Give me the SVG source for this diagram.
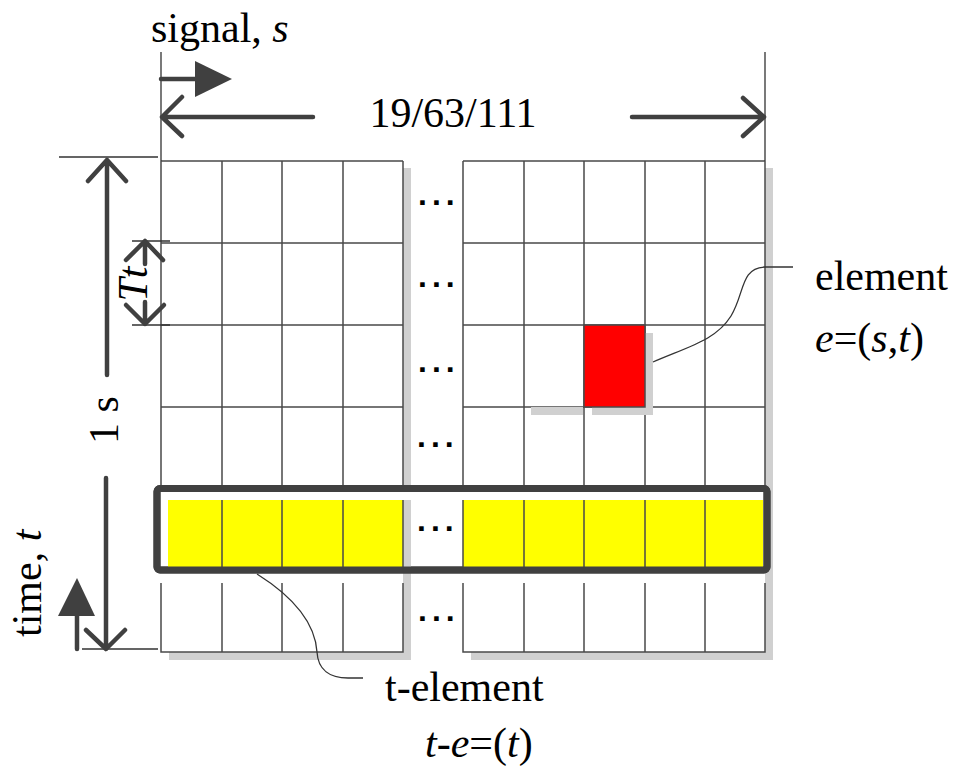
<svg xmlns="http://www.w3.org/2000/svg" width="957" height="776" viewBox="0 0 957 776">
<style>
text{font-family:'Liberation Serif','Times New Roman',Times,serif}
.t{font-size:42px;fill:#000}
.i{font-style:italic}
.dots{font-family:'Liberation Sans',Arial,sans-serif;font-weight:bold;font-size:32px;letter-spacing:5px;fill:#000}
.g{stroke:#4a4a4a;stroke-width:1.5;fill:none}
.thin{stroke:#333;stroke-width:1.3;fill:none}
.arr{stroke:#404040;stroke-width:4.5;fill:none;stroke-linecap:round;stroke-linejoin:round}
.sh{fill:#d0d0d0}
.lead{stroke:#333;stroke-width:1.3;fill:none}
</style>
<rect width="957" height="776" fill="#fff"/>

<g id="grid">
  <rect class="sh" x="169" y="168" width="242" height="492"/>
  <rect class="sh" x="471" y="168" width="302" height="492"/>
  <rect x="161" y="161" width="242" height="491" fill="#fff"/>
  <rect x="463" y="161" width="302" height="491" fill="#fff"/>
  <path class="g" d="M161,161H403M463,161H765M161,243H403M463,243H765M161,325H403M463,325H765M161,407H403M463,407H765"/>
  <path class="g" d="M161,161V486M222,161V486M282,161V486M343,161V486M403,161V486M463,161V486M524,161V486M584,161V486M645,161V486M705,161V486M765,161V486"/>
  <path class="g" d="M161,583V652H403V583M222,583V652M282,583V652M343,583V652M463,583V652H765V583M524,583V652M584,583V652M645,583V652M705,583V652"/>
</g>

<g id="element">
  <rect class="sh" x="592" y="333" width="61" height="82"/>
  <rect class="sh" x="531" y="407" width="52" height="8"/>
  <rect x="584" y="325" width="61" height="82" fill="#ff0000" stroke="#4a4a4a" stroke-width="1.5"/>
</g>

<g id="t-element-row">
  <rect x="157" y="488.5" width="610" height="81.5" rx="3" fill="#fff" stroke="#404040" stroke-width="7"/>
  <rect class="sh" x="403" y="500" width="8" height="67"/>
  <rect x="168" y="500" width="235" height="67" fill="#ffff00"/>
  <rect x="463" y="500" width="300" height="67" fill="#ffff00"/>
  <path class="g" d="M222,500V567M282,500V567M343,500V567M403,500V567M463,500V567M524,500V567M584,500V567M645,500V567M705,500V567"/>
  <rect x="157" y="488.5" width="610" height="81.5" rx="3" fill="none" stroke="#404040" stroke-width="7"/>
</g>

<g id="dots">
  <text class="dots" x="418" y="205">...</text>
  <text class="dots" x="418" y="287">...</text>
  <text class="dots" x="418" y="372">...</text>
  <text class="dots" x="417" y="447">...</text>
  <text class="dots" x="417" y="531">...</text>
  <text class="dots" x="418" y="621">...</text>
</g>

<g id="connectors">
  <path class="thin" d="M161,52V161M765,52V161M59,157H158M132,241H170M132,325H170M82,649H158"/>
  <path class="arr" d="M161,79H196"/>
  <polygon points="195,61 232,79 195,97" fill="#404040"/>
  <path class="arr" d="M313,117H162M182,97L162,117L182,136"/>
  <path class="arr" d="M632,117H764M743,98L764,117L743,136"/>
  <path class="arr" d="M107,375V160M88,181L107,160L126,181"/>
  <path class="arr" d="M106,478V649M86,630L106,649L125,630"/>
  <path class="arr" d="M77,649V614"/>
  <polygon points="58,616 77,578 95,616" fill="#404040"/>
  <path class="arr" d="M145,264V241M126,260L145,241L163,260"/>
  <path class="arr" d="M145,302V324M126,305L145,324L164,305"/>
  <path class="lead" d="M653,362C690,346 716,340 731,316C745,293 740,268 765,267L793,267"/>
  <path class="lead" d="M257,574C292,596 315,622 317,652C318,670 330,678 348,678L363,678"/>
</g>

<g id="labels" font-family="'Liberation Serif', 'Times New Roman', serif">
  <text class="t" x="151" y="42">signal, <tspan class="i">s</tspan></text>
  <text class="t" x="453" y="127" text-anchor="middle">19/63/111</text>
  <text class="t" transform="translate(118,420) rotate(-90)" text-anchor="middle">1 s</text>
  <text class="t" transform="translate(41,637) rotate(-90)">time, <tspan class="i">t</tspan></text>
  <text class="t i" transform="translate(147,284) rotate(-90)" text-anchor="middle" font-size="40">Tt</text>
  <text class="t" x="815" y="290">element</text>
  <text class="t" x="815" y="352"><tspan class="i">e</tspan>=(<tspan class="i">s</tspan>,<tspan class="i">t</tspan>)</text>
  <text class="t" x="385" y="701">t-element</text>
  <text class="t" x="425" y="757"><tspan class="i">t</tspan>-<tspan class="i">e</tspan>=(<tspan class="i">t</tspan>)</text>
</g>
</svg>
